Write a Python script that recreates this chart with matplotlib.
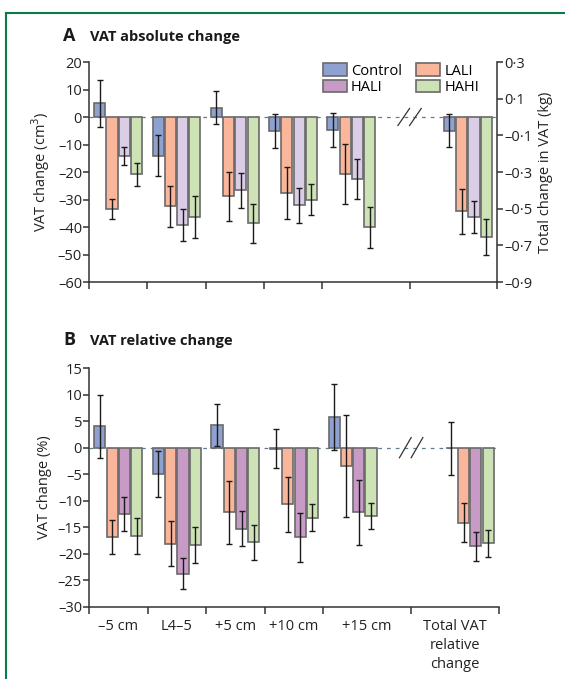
import numpy as np
import matplotlib
matplotlib.use("Agg")
import matplotlib.pyplot as plt
from matplotlib.patches import Patch
from matplotlib.lines import Line2D

plt.rcParams['font.family'] = ['Open Sans', 'DejaVu Sans']
plt.rcParams['font.size'] = 10

# --- data ---
groups = ["–5 cm", "L4–5", "+5 cm", "+10 cm", "+15 cm", "Total VAT\nrelative\nchange"]
series = ["Control", "LALI", "HALI", "HAHI"]

# panel A: absolute change, cm3 (slices), kg (total)
abs_mean = {
    "Control": [5.0, -14.1, 3.3, -5.0, -4.6],
    "LALI":    [-33.4, -32.5, -28.9, -27.6, -20.8],
    "HALI":    [-14.1, -39.2, -26.7, -32.1, -22.4],
    "HAHI":    [-20.9, -36.3, -38.7, -30.0, -40.1],
}
abs_err = {
    "Control": [8.6, 7.5, 6.0, 6.1, 6.2],
    "LALI":    [3.6, 7.5, 9.0, 9.5, 11.0],
    "HALI":    [3.3, 5.8, 6.3, 6.3, 7.3],
    "HAHI":    [4.3, 7.7, 7.1, 5.7, 7.4],
}
total_kg_mean = {"Control": -0.074, "LALI": -0.515, "HALI": -0.545, "HAHI": -0.656}
total_kg_err = {"Control": 0.09, "LALI": 0.122, "HALI": 0.086, "HAHI": 0.098}

# panel B: relative change, %
rel_mean = {
    "Control": [4.0, -4.9, 4.3, -0.2, 5.8, -0.1],
    "LALI":    [-16.9, -18.1, -12.2, -10.7, -3.5, -14.1],
    "HALI":    [-12.4, -23.7, -15.3, -16.9, -12.2, -18.6],
    "HAHI":    [-16.7, -18.3, -17.8, -13.2, -12.9, -18.0],
}
rel_err = {
    "Control": [6.0, 4.3, 3.9, 3.7, 6.2, 5.0],
    "LALI":    [3.2, 4.2, 6.0, 5.1, 9.6, 3.6],
    "HALI":    [3.2, 3.0, 3.3, 4.6, 6.2, 2.8],
    "HAHI":    [3.4, 3.4, 3.3, 2.5, 2.5, 2.5],
}

# group positions (gap at 5 for the axis break)
xpos = np.array([0, 1, 2, 3, 4, 6])
label_pos = [0, 1, 2, 3, 4.25, 5.75]
bounds = [-0.5, 0.5, 1.5, 2.5, 3.5, 5, 6.5]
break_x = 5.0

colors_a = {"Control": "#8fa1d0", "LALI": "#f9b69a", "HALI": "#dacde6", "HAHI": "#cde3b5"}
colors_b = {"Control": "#8fa1d0", "LALI": "#f9b69a", "HALI": "#c89bc6", "HAHI": "#cde3b5"}
offsets = [-0.315, -0.105, 0.105, 0.315]
bw = 0.19
edge = "#6a6a6a"
axcol = "#333333"


def dash(v):
    return str(v).replace("-", "–")


def style_axis(ax):
    for s in ["top", "right"]:
        ax.spines[s].set_visible(False)
    for s in ["left", "bottom"]:
        ax.spines[s].set_color(axcol)
        ax.spines[s].set_linewidth(1.1)
    ax.set_xlim(-0.5, 6.5)
    ax.set_xticks(bounds)
    ax.set_xticklabels([])
    ax.tick_params(axis="x", which="major", length=5, width=1.1, color=axcol)
    ax.tick_params(axis="y", length=4, width=1.1, color=axcol, labelsize=10.5, labelcolor="#222222", pad=1)
    ax.axhline(0, color="#5d7f8c", lw=0.9, ls=(0, (3, 4)), zorder=1)


def draw_break(ax, dy):
    for sh in [-0.1, 0.1]:
        ax.plot([break_x + sh - 0.1, break_x + sh + 0.1], [-dy, dy], color="#333333", lw=0.9, zorder=5)


def bars(ax, x, h, e, c):
    ax.bar(x, h, width=bw, color=c, edgecolor=edge, linewidth=1.2, zorder=2)
    ax.errorbar(x, h, yerr=e, fmt="none", ecolor="#1a1a1a", elinewidth=1.0, capsize=2.3, capthick=1.0, zorder=3)


fig = plt.figure(figsize=(5.65, 6.79), dpi=100)

# ---- panel A ----
axA = fig.add_axes([89 / 565, 1 - 282 / 679, (497 - 89) / 565, (282 - 62) / 679])
style_axis(axA)
axA.set_ylim(-60, 20)
axA.set_yticks(np.arange(-60, 21, 10))
axA.set_yticklabels([dash(v) for v in range(-60, 21, 10)])
axA.set_ylabel("VAT change (cm$^3$)", fontsize=10.5, color="#222222", labelpad=4)
for i, s in enumerate(series):
    bars(axA, xpos[:5] + offsets[i], abs_mean[s], abs_err[s], colors_a[s])

axA2 = axA.twinx()
axA2.set_ylim(-0.9, 0.3)
kg_ticks = [0.3, 0.1, -0.1, -0.3, -0.5, -0.7, -0.9]
axA2.set_yticks(kg_ticks)
axA2.set_yticklabels([dash(f"{v:.1f}").replace(".", "·") for v in kg_ticks])
for s in ["top", "left", "bottom"]:
    axA2.spines[s].set_visible(False)
axA2.spines["right"].set_color(axcol)
axA2.spines["right"].set_linewidth(1.1)
axA2.tick_params(axis="y", length=4, width=1.1, color=axcol, labelsize=10.5, labelcolor="#222222", pad=1)
axA2.set_ylabel("Total change in VAT (kg)", fontsize=10.5, color="#222222", labelpad=4)
for i, s in enumerate(series):
    bars(axA2, xpos[5] + offsets[i], [total_kg_mean[s]], [total_kg_err[s]], colors_a[s])
draw_break(axA, 3.1)

handles = [Patch(facecolor=colors_b[s], edgecolor=edge, linewidth=1.2) for s in ["Control", "HALI", "LALI", "HAHI"]]
axA2.legend(handles, ["Control", "HALI", "LALI", "HAHI"], ncol=2, loc="upper right",
            bbox_to_anchor=(0.97, 1.02), frameon=False, fontsize=10.5, handlelength=1.6,
            handleheight=0.9, handletextpad=0.3, columnspacing=1.0, labelspacing=0.1,
            borderaxespad=0.0)

# ---- panel B ----
axB = fig.add_axes([89 / 565, 1 - 607 / 679, (499 - 89) / 565, (607 - 368) / 679])
style_axis(axB)
axB.set_ylim(-30, 15)
axB.set_yticks(np.arange(-30, 16, 5))
axB.set_yticklabels([dash(v) for v in range(-30, 16, 5)])
axB.set_ylabel("VAT change (%)", fontsize=10.5, color="#222222", labelpad=4)
for i, s in enumerate(series):
    bars(axB, xpos + offsets[i], rel_mean[s], rel_err[s], colors_b[s])
draw_break(axB, 1.9)
axB.set_xticks(label_pos, minor=True)
axB.set_xticklabels(groups, minor=True, fontsize=10.5, color="#222222", linespacing=1.35)
axB.tick_params(axis="x", which="minor", length=0, pad=9)

# panel titles
fig.text(63 / 565, 1 - 36 / 679, "A", fontsize=13, fontweight="bold", va="center", color="#1a1a1a")
fig.text(90 / 565, 1 - 37 / 679, "VAT absolute change", fontsize=10.5, fontweight="bold", va="center", color="#1a1a1a")
fig.text(63 / 565, 1 - 340 / 679, "B", fontsize=13, fontweight="bold", va="center", color="#1a1a1a")
fig.text(90 / 565, 1 - 341 / 679, "VAT relative change", fontsize=10.5, fontweight="bold", va="center", color="#1a1a1a")

# green frame lines
fig.add_artist(Line2D([6 / 565, 6 / 565], [0, 1 - 13 / 679], color="#0b7a48", lw=1.5))
fig.add_artist(Line2D([6 / 565, 1], [1 - 13 / 679, 1 - 13 / 679], color="#0b7a48", lw=1.5))

fig.savefig("out.png", dpi=100)
